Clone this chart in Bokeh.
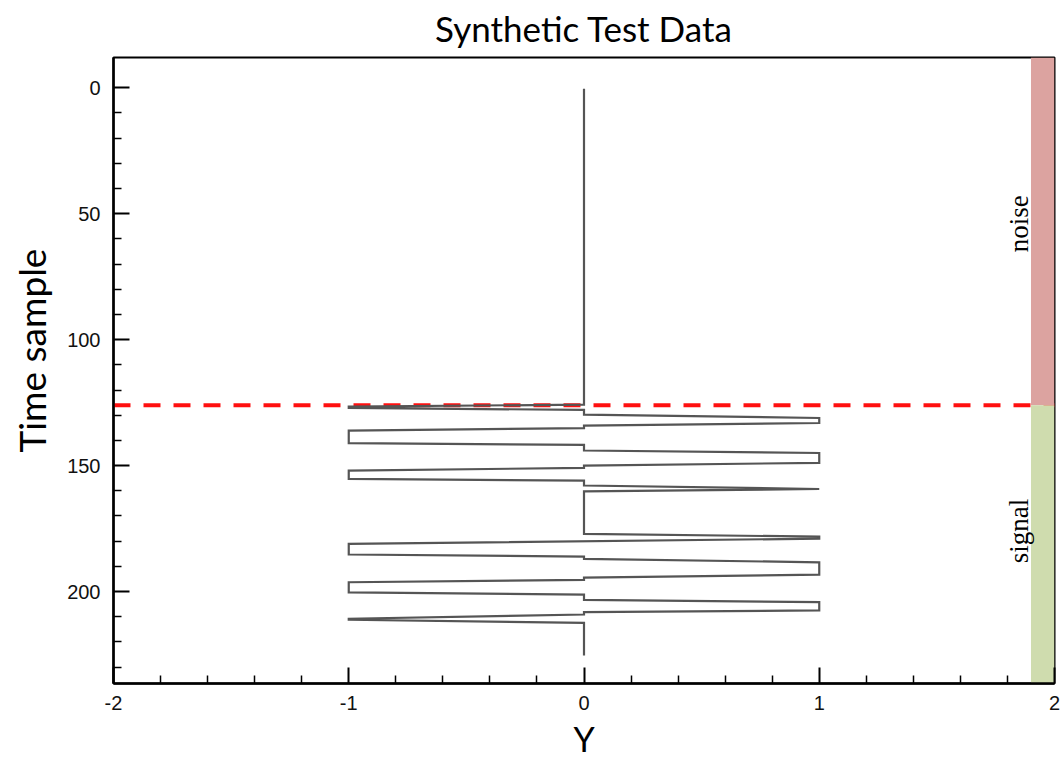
import math

from bokeh.core.properties import value
from bokeh.embed import file_html
from bokeh.models import FixedTicker, Range1d, Span, Title
from bokeh.plotting import figure
from bokeh.resources import INLINE

# Trace vertices: amplitude (horizontal) against time sample (vertical)
trace_amp = [0, 0, -1, -1, 0, 0, 1, 1, 0, 0, -1, -1, 0, 0, 1, 1, 0, 0,
             -1, -1, 0, 0, 1, 0, 0, 1, 1, -1, -1, 0, 0, 1, 1, 0, 0,
             -1, -1, 0, 0, 1, 1, 0, 0, -1, -1, 0, 0]
trace_time = [0.4, 125.8, 126.6, 127.1, 127.9, 129.8, 131.1, 133.1, 134.1,
              135.1, 136.1, 141.1, 141.8, 144.0, 145.0, 148.9, 150.0, 150.9,
              152.0, 155.3, 156.0, 157.9, 159.3, 160.2, 177.1, 178.2, 179.0,
              181.1, 185.3, 186.1, 187.0, 188.4, 193.3, 194.5, 195.4, 196.3,
              200.3, 201.2, 203.3, 204.2, 207.5, 208.2, 209.1, 210.8, 211.2,
              212.4, 225.4]

# Noise / signal windows along the time axis
region_names = ["noise", "signal"]
region_start = [-12.0, 126.0]
region_end = [126.0, 236.5]
region_colors = ["#dca3a0", "#cfdcae"]
region_label_time = [54.0, 176.0]
boundary_time = 126.0

# Axis ticks
x_ticks = [-2, -1, 0, 1, 2]
x_tick_labels = ["-2", "-1", "0", "1", "2"]
x_minor = [-1.8, -1.6, -1.4, -1.2, -0.8, -0.6, -0.4, -0.2,
           0.2, 0.4, 0.6, 0.8, 1.2, 1.4, 1.6, 1.8]
y_ticks = [0, 50, 100, 150, 200]
y_minor = [10, 20, 30, 40, 60, 70, 80, 90, 110, 120, 130, 140,
           160, 170, 180, 190, 210, 220, 230]

p = figure(
    width=1060, height=761,
    output_backend="svg", toolbar_location=None,
    x_range=Range1d(-2, 2), y_range=Range1d(236.5, -12),
    title=None,
    min_border_left=110, min_border_right=6,
    min_border_top=57, min_border_bottom=78,
)
p.grid.visible = False
p.outline_line_color = "black"
p.outline_line_width = 2
p.background_fill_color = "white"
p.border_fill_color = "white"

xax = p.below[0]
yax = p.left[0]

for ax in (xax, yax):
    ax.axis_line_width = 2.5
    ax.axis_line_color = "black"
    ax.major_tick_in = 16
    ax.major_tick_out = 0
    ax.minor_tick_in = 8
    ax.minor_tick_out = 0
    ax.major_tick_line_width = 2
    ax.minor_tick_line_width = 1.5
    ax.major_label_text_font = "Liberation Sans"
    ax.major_label_text_font_size = "20px"
    ax.major_label_text_color = "#111111"
    ax.axis_label_text_font = "Lato"
    ax.axis_label_text_font_size = "34px"
    ax.axis_label_text_font_style = "normal"
    ax.axis_label_text_color = "black"

xax.ticker = FixedTicker(ticks=x_ticks, minor_ticks=x_minor)
xax.major_label_overrides = {t: s for t, s in zip(x_ticks, x_tick_labels)}
xax.major_label_standoff = 12
xax.axis_label = "Y"
xax.axis_label_standoff = 5

yax.ticker = FixedTicker(ticks=y_ticks, minor_ticks=y_minor)
yax.major_label_standoff = 13

# Title filling the whole top band, text pinned towards its upper edge
p.add_layout(Title(text="Synthetic Test Data", align="center",
                   vertical_align="top", standoff=13,
                   text_font="Lato", text_font_size="35px",
                   text_font_style="normal", text_color="black"), "above")

# Vertical axis title, starting a little above the frame's middle
p.add_layout(Title(text="Time sample", align="left", offset=231,
                   vertical_align="top", standoff=17,
                   text_font="Lato", text_font_size="37px",
                   text_font_style="normal", text_color="black"), "left")

# Boundary between the two windows
p.add_layout(Span(location=boundary_time, dimension="width",
                  line_color="#ff1010", line_width=4,
                  line_dash="17 13", level="underlay"))

# Window strip on the right edge
p.quad(left=1.9, right=2.0, top=region_start, bottom=region_end,
       fill_color=region_colors, line_color=None)
p.text(x=[1.847, 1.847], y=region_label_time, text=region_names,
       angle=math.pi / 2, text_align="center", text_baseline="middle",
       text_font=value("Liberation Serif"), text_font_size="27px",
       text_color="black")

# The trace itself
p.line(trace_amp, trace_time, line_color="#555555", line_width=2.2,
       line_join="miter")

open("out.html", "w").write(file_html(p, INLINE))
